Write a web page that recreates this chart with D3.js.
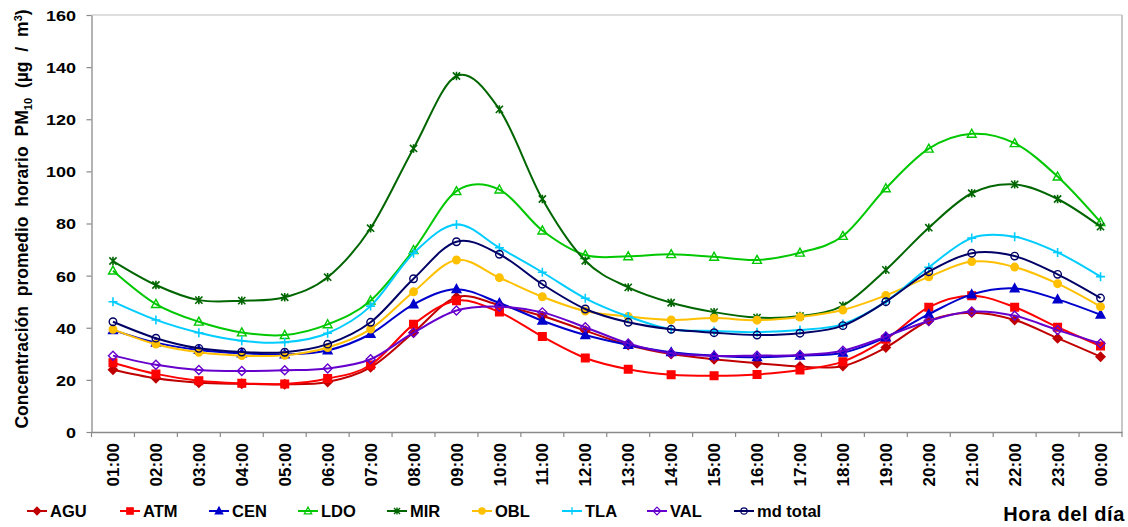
<!DOCTYPE html>
<html>
<head>
<meta charset="utf-8">
<script src="https://cdn.jsdelivr.net/npm/d3@7"></script>
<style>
  html, body { margin: 0; padding: 0; background: #fff; }
  svg { display: block; font-family: "Liberation Sans", Arial, sans-serif; }
</style>
</head>
<body>
<svg id="chart" width="1128" height="527"></svg>
<script>
// Hourly mean PM10 by monitoring station
const hours = ["01:00","02:00","03:00","04:00","05:00","06:00","07:00","08:00","09:00","10:00","11:00","12:00",
               "13:00","14:00","15:00","16:00","17:00","18:00","19:00","20:00","21:00","22:00","23:00","00:00"];

const AGU = [23.9,20.6,18.9,18.5,18.3,19.2,24.8,38.2,51.7,48.7,44.5,38.9,33.4,29.9,27.9,26.4,25.1,25.3,32.4,42.7,45.8,43.0,36.0,28.9];
const ATM = [26.6,22.3,19.7,18.7,18.4,20.5,25.7,41.3,50.4,46.0,36.6,28.4,24.1,22.0,21.6,22.1,23.8,27.0,35.6,47.9,52.3,47.9,40.2,33.0];
const CEN = [39.1,34.3,31.5,30.2,29.8,31.3,37.6,49.0,54.8,49.5,42.7,37.2,33.4,30.6,29.3,28.7,29.3,30.4,36.3,45.2,52.8,55.1,50.9,45.0];
const LDO = [61.9,49.1,42.3,38.2,37.2,41.3,50.4,69.8,92.4,93.0,77.3,67.9,67.4,68.2,67.2,66.0,68.8,75.2,93.5,108.7,114.4,110.8,98.0,80.5];
const MIR = [65.6,56.4,50.6,50.4,51.7,59.4,78.2,108.8,136.6,123.8,89.4,65.7,55.5,49.6,46.0,43.9,44.5,48.5,62.2,78.4,91.6,95.0,89.4,78.8];
const OBL = [39.4,33.7,30.6,29.3,29.4,32.4,39.5,53.8,66.0,59.2,51.9,46.4,44.3,43.0,43.7,42.9,44.1,46.8,52.4,59.5,65.4,63.3,56.9,48.1];
const TLA = [50.0,43.0,38.1,35.0,34.4,37.9,48.3,68.6,79.6,70.7,61.3,51.3,44.3,39.4,38.8,38.3,39.1,41.4,50.0,63.2,74.4,74.9,68.9,59.6];
const VAL = [29.3,25.8,23.8,23.4,23.7,24.4,27.9,38.1,46.6,48.1,45.9,40.2,34.0,30.2,29.2,29.3,29.5,31.2,36.6,42.6,46.2,44.6,39.1,34.0];
const MD_TOTAL = [42.3,36.0,32.1,30.7,30.6,33.7,42.1,58.8,73.0,68.2,56.7,47.2,42.1,39.4,38.1,37.2,37.9,40.8,50.0,61.5,68.6,67.5,60.5,51.4];

const yTicks = [0,20,40,60,80,100,120,140,160];

// series: name, values, colour, marker kind
const series = [
  { name: "AGU",      values: AGU,      color: "#C00000", marker: "diamond",  filled: true  },
  { name: "ATM",      values: ATM,      color: "#FF0000", marker: "square",   filled: true  },
  { name: "CEN",      values: CEN,      color: "#0000CC", marker: "triangle", filled: true  },
  { name: "LDO",      values: LDO,      color: "#00C800", marker: "triangle", filled: false },
  { name: "MIR",      values: MIR,      color: "#006600", marker: "star",     filled: false },
  { name: "OBL",      values: OBL,      color: "#FFC000", marker: "circle",   filled: true  },
  { name: "TLA",      values: TLA,      color: "#00CCFF", marker: "plus",     filled: false },
  { name: "VAL",      values: VAL,      color: "#6600CC", marker: "diamond",  filled: false },
  { name: "md total", values: MD_TOTAL, color: "#000066", marker: "circle",   filled: false }
];

const svg = d3.select("#chart");
const plot = { left: 91.5, right: 1122, top: 15, bottom: 432 };

const x = d3.scaleBand().domain(hours).range([plot.left, plot.right]).paddingInner(0).paddingOuter(0);
const y = d3.scaleLinear().domain([0, 160]).range([plot.bottom, plot.top]);
const cx = h => x(h) + x.bandwidth() / 2;

const axisColor = "#8a8a8a";

// plot-area frame (top and right)
svg.append("line").attr("x1", plot.left).attr("x2", plot.right).attr("y1", plot.top).attr("y2", plot.top)
  .attr("stroke", "#bdbdbd").attr("stroke-width", 1.2);
svg.append("line").attr("x1", plot.right).attr("x2", plot.right).attr("y1", plot.top).attr("y2", plot.bottom)
  .attr("stroke", "#c8c8c8").attr("stroke-width", 2);

// y axis
const yAxis = svg.append("g").attr("transform", `translate(${plot.left},0)`)
  .call(d3.axisLeft(y).tickValues(yTicks).tickSize(5).tickSizeOuter(0));
yAxis.select(".domain").attr("stroke", axisColor).attr("stroke-width", 1.3);
yAxis.selectAll(".tick line").attr("stroke", axisColor).attr("stroke-width", 1.2);
yAxis.selectAll(".tick text")
  .attr("x", 0).attr("dy", "0.36em")
  .attr("transform", "translate(-15.5,0) scale(1.2,1)")
  .attr("text-anchor", "end")
  .style("font-size", "15px").style("font-weight", "bold").style("fill", "#000")
  .style("font-family", "'Liberation Sans', Arial, sans-serif");

// x axis
const xAxis = svg.append("g").attr("transform", `translate(0,${plot.bottom})`)
  .call(d3.axisBottom(x).tickSize(0).tickSizeOuter(0));
xAxis.select(".domain").attr("stroke", axisColor).attr("stroke-width", 1.3);
xAxis.selectAll(".tick text")
  .attr("text-anchor", "end")
  .attr("transform", "translate(0,11) rotate(-90)")
  .attr("x", 0).attr("y", 0).attr("dy", "0.36em")
  .style("font-size", "17px").style("font-weight", "bold").style("fill", "#000")
  .style("font-family", "'Liberation Sans', Arial, sans-serif");

// category boundary ticks
const boundaries = hours.map(h => x(h)).concat([x.range()[1]]);
svg.append("g").selectAll("line").data(boundaries).join("line")
  .attr("x1", d => d).attr("x2", d => d)
  .attr("y1", plot.bottom).attr("y2", plot.bottom + 5)
  .attr("stroke", axisColor).attr("stroke-width", 1.2);

// marker shapes
function markerPath(kind) {
  switch (kind) {
    case "diamond":  return "M0,-4.5L4.5,0L0,4.5L-4.5,0Z";
    case "square":   return "M-3.8,-3.8H3.8V3.8H-3.8Z";
    case "triangle": return "M0,-4.6L4.4,3.4H-4.4Z";
    case "circle":   return d3.symbol(d3.symbolCircle, 44)();
    case "plus":     return "M-4.5,0H4.5M0,-4.5V4.5";
    case "star":     return "M-3.6,-3.6L3.6,3.6M-3.6,3.6L3.6,-3.6M0,-4.2V4.2";
  }
}
function drawMarker(g, s) {
  const openLine = s.marker === "plus" || s.marker === "star";
  g.append("path")
    .attr("d", markerPath(s.marker))
    .attr("fill", openLine ? "none" : (s.filled ? s.color : "none"))
    .attr("stroke", s.color)
    .attr("stroke-width", openLine ? 1.6 : 1.4);
}

// smoothed lines
const line = d3.line()
  .x((d, i) => cx(hours[i]))
  .y(d => y(d))
  .curve(d3.curveCardinal.tension(0));

const lines = svg.append("g");
series.forEach(s => {
  const g = lines.append("g");
  g.append("path").datum(s.values)
    .attr("d", line).attr("fill", "none")
    .attr("stroke", s.color).attr("stroke-width", 2);
  s.values.forEach((v, i) => {
    const m = g.append("g").attr("transform", `translate(${cx(hours[i])},${y(v)})`);
    drawMarker(m, s);
  });
});

// y title
const yTitle = svg.append("text")
  .attr("transform", "translate(28,219) rotate(-90)")
  .attr("text-anchor", "middle")
  .style("font-size", "17.5px").style("font-weight", "bold").style("fill", "#000")
  .style("word-spacing", "5px");
yTitle.append("tspan").text("Concentración promedio horario PM");
yTitle.append("tspan").attr("dy", 4).style("font-size", "11px").text("10");
yTitle.append("tspan").attr("dy", -4).text(" (µg / m");
yTitle.append("tspan").attr("dy", -6).style("font-size", "11px").text("3");
yTitle.append("tspan").attr("dy", 6).text(")");

// x title
svg.append("text")
  .attr("x", 1125).attr("y", 521)
  .attr("text-anchor", "end")
  .style("font-size", "20px").style("font-weight", "bold").style("fill", "#000")
  .style("letter-spacing", "0.6px")
  .text("Hora del día");

// legend
const legendX = [27, 120, 209, 298, 387, 472, 562, 647, 734];
const legend = svg.append("g").attr("transform", "translate(0,511)");
series.forEach((s, i) => {
  const g = legend.append("g").attr("transform", `translate(${legendX[i]},0)`);
  g.append("line").attr("x1", 0).attr("x2", 20).attr("y1", 0).attr("y2", 0)
    .attr("stroke", s.color).attr("stroke-width", 2);
  const m = g.append("g").attr("transform", "translate(10,0) scale(0.85)");
  drawMarker(m, s);
  g.append("text").attr("x", 23).attr("y", 6)
    .style("font-size", "16.5px").style("font-weight", "bold").style("fill", "#000")
    .text(s.name);
});
</script>
</body>
</html>
